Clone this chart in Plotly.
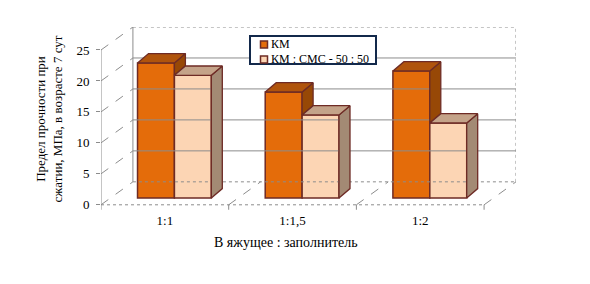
import plotly.graph_objects as go

categories = ["1:1", "1:1,5", "1:2"]
series_names = ["КМ", "КМ : СМС - 50 : 50"]
km_values = [21.8, 17.1, 20.5]
mix_values = [19.8, 13.4, 12.1]
y_ticks = [0, 5, 10, 15, 20, 25]

# styling / projection parameters
FRONT = ["#E46C0A", "#FCD5B4"]
TOP = ["#B0540C", "#C4A389"]
SIDE = ["#974806", "#A38A74"]
EDGE = "#6E2B25"
GRID = "#8C8C8C"
FONT = "Liberation Serif, Times New Roman, serif"

W, H = 590, 284
ML, MR, MT, MB = 101, 74, 27, 72.8

n = len(categories)
DX, DY = 0.25, 3.71          # wall depth offset in data units
BZ = 0.3                      # depth position of bars (fraction)
BDX, BDY = 0.086, 1.5         # bar depth
BW = 0.289                    # bar width
YMAX = 25

fig = go.Figure()

def line(xs, ys, dash="solid", color=GRID, width=1):
    fig.add_trace(go.Scatter(x=xs, y=ys, mode="lines", showlegend=False, hoverinfo="skip",
                             line=dict(color=color, width=width, dash=dash)))

def poly(xs, ys, fill):
    fig.add_trace(go.Scatter(x=xs + [xs[0]], y=ys + [ys[0]], mode="lines", fill="toself",
                             fillcolor=fill, showlegend=False, hoverinfo="skip",
                             line=dict(color=EDGE, width=1.3)))

x0, x1 = -0.5, n - 0.5
# back wall gridlines
for v in y_ticks[1:-1]:
    line([x0 + DX, x1 + DX], [v + DY, v + DY])
line([x0 + DX, x0 + DX], [DY, YMAX + DY])
line([x0 + DX, x1 + DX], [YMAX + DY, YMAX + DY], dash="dot")
line([x1 + DX, x1 + DX], [DY, YMAX + DY], dash="dot")
line([x0 + DX, x1 + DX], [DY, DY], dash="dot")
# side wall diagonals
for v in y_ticks:
    line([x0, x0 + DX], [v, v + DY], dash="dash")
# floor
line([x0, x1], [0, 0], dash="dot")
for b in [i + 0.5 for i in range(n)]:
    line([b, b + DX], [0, DY], dash="dash")
# front y axis line
line([x0, x0], [0, YMAX])
# x tick marks
for b in [i - 0.5 for i in range(n + 1)]:
    line([b, b], [0, -0.8])

bx = BZ * DX
by = BZ * DY
vals = [km_values, mix_values]

for i in range(n):
    for s in range(2):
        xl = i + bx - BW + s * BW
        xr = xl + BW
        h = vals[s][i] + by
        if s == 0:
            low = max(by, mix_values[i] + by)
            if h > low:
                poly([xr, xr, xr + BDX, xr + BDX], [low, h, h + BDY, low + BDY], SIDE[0])
        else:
            poly([xr, xr, xr + BDX, xr + BDX], [by, h, h + BDY, by + BDY], SIDE[1])
        poly([xl, xr, xr + BDX, xl + BDX], [h, h, h + BDY, h + BDY], TOP[s])

for s in range(2):
    fig.add_trace(go.Bar(
        x=[i + bx - BW / 2 + (s - 0.5) * BW + BW / 2 for i in range(n)],
        y=vals[s], base=by, width=BW, name=series_names[s], showlegend=False,
        marker=dict(color=FRONT[s], line=dict(color=EDGE, width=1.5)),
    ))

# custom compact legend (paper coordinates from pixel positions)
def px(xp):
    return (xp - ML) / (W - ML - MR)

def py(yp):
    return 1 - (yp - MT) / (H - MT - MB)

shapes = [dict(type="rect", xref="paper", yref="paper",
               x0=px(250), x1=px(376), y0=py(64), y1=py(36),
               line=dict(color="#13294B", width=2), fillcolor="white", layer="above")]
annotations = []
for s, yc in enumerate([44.5, 59.5]):
    shapes.append(dict(type="rect", xref="paper", yref="paper",
                       x0=px(260.5), x1=px(267.5), y0=py(yc + 3.5), y1=py(yc - 3.5),
                       line=dict(color=EDGE, width=1.5), fillcolor=FRONT[s], layer="above"))
    annotations.append(dict(text=series_names[s], xref="paper", yref="paper",
                            x=px(269), y=py(yc), xanchor="left", yanchor="middle",
                            showarrow=False, font=dict(size=12, family=FONT)))

annotations.append(dict(text="В яжущее : заполнитель", xref="paper", yref="paper",
                        x=px(286), y=py(243), xanchor="center", yanchor="middle",
                        showarrow=False, font=dict(size=14, family=FONT)))

fig.update_layout(
    width=W, height=H,
    margin=dict(l=ML, r=MR, t=MT, b=MB),
    plot_bgcolor="white", paper_bgcolor="white",
    barmode="overlay",
    font=dict(family=FONT, size=13, color="black"),
    showlegend=False,
    shapes=shapes, annotations=annotations,
    xaxis=dict(range=[x0, x1 + DX], tickvals=list(range(n)), ticktext=categories,
               showgrid=False, zeroline=False, showline=False, ticks="",
               tickfont=dict(size=13), fixedrange=True),
    yaxis=dict(range=[-1, YMAX + DY], tickvals=y_ticks, showgrid=False, zeroline=False,
               showline=False, ticks="outside", ticklen=4, tickcolor=GRID,
               tickfont=dict(size=13), fixedrange=True, ticklabelstandoff=4,
               title=dict(text="Предел прочности при<br>сжатии, МПа, в возрасте 7 сут",
                          font=dict(size=13), standoff=10)),
)

fig.write_html("out.html")
